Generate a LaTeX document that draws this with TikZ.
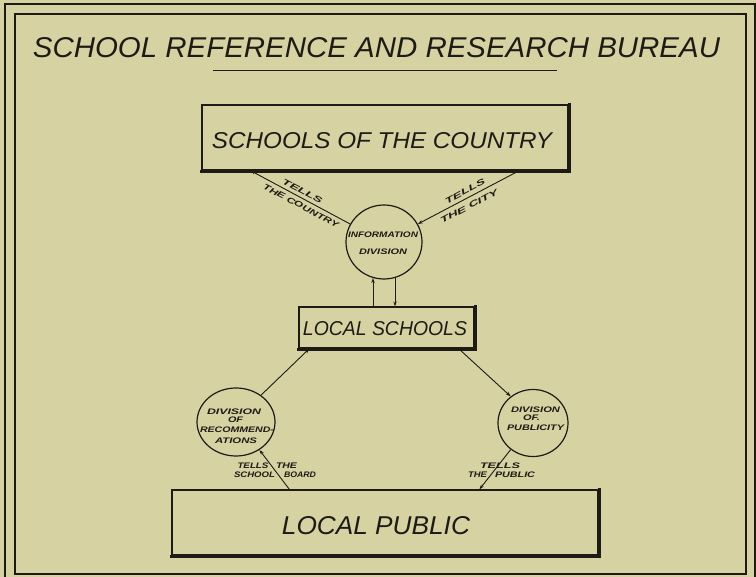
\documentclass[tikz,border=0pt]{standalone}
\usepackage{fontspec}
\setmainfont{Liberation Sans}
\usepackage{graphicx}
\usetikzlibrary{shapes.geometric,calc,arrows.meta}

\definecolor{paper}{RGB}{215,210,161}
\definecolor{ink}{RGB}{28,27,22}

% hand lettering: italic capitals stretched to a given width and cap height
\newcommand{\lettering}[3]{\resizebox{#1}{#2}{\itshape #3}}
\newcommand{\smalllet}[2]{\resizebox{#1}{5.6pt}{\bfseries\itshape #2}}

\begin{document}
\begin{tikzpicture}[x=1pt,y=-1pt,
  every node/.style={inner sep=0pt, text=ink},
  box/.style={draw=ink, line width=1.2pt, rectangle, inner sep=0pt},
  division/.style={draw=ink, line width=1.2pt, ellipse, inner sep=0pt},
  link/.style={draw=ink, line width=0.9pt, -{Stealth[length=5pt,width=3.4pt]}},
  frameline/.style={draw=ink, line width=1.1pt},
  shadowedge/.style={draw=ink, line width=2.6pt, line cap=rect}
]
\fill[paper] (0,0) rectangle (756,577);
\useasboundingbox (0,0) rectangle (756,577);

% double frame
\draw[frameline] (5,4) rectangle (755,592);
\draw[frameline] (15,14) rectangle (746,574);

% title
\node (title) at (376.5,47.5) {\lettering{687pt}{20pt}{SCHOOL REFERENCE AND RESEARCH BUREAU}};
\draw[ink, line width=0.9pt] (213,70) -- (557,70);

% boxes
\node[box, minimum width=366pt, minimum height=65pt] (sotc) at (385,137.5) {};
\node[box, minimum width=175pt, minimum height=41pt] (ls) at (386.5,327.5) {};
\node[box, minimum width=426pt, minimum height=65pt] (lp) at (385,522.5) {};
\foreach \b in {sotc,ls,lp}{
  \draw[shadowedge] ([xshift=0.8pt]\b.north east) -- ([xshift=0.8pt,yshift=-0.8pt]\b.south east) -- ([yshift=-0.8pt]\b.south west);
}
\node (sotctext) at ($(sotc.center)+(-3,3.5)$) {\lettering{340pt}{16pt}{SCHOOLS OF THE COUNTRY}};
\node (lstext) at ($(ls.center)+(-1.5,1.5)$) {\lettering{164pt}{14pt}{LOCAL SCHOOLS}};
\node (lptext) at ($(lp.center)+(-9,3.5)$) {\lettering{188pt}{18pt}{LOCAL PUBLIC}};

% divisions
\node[division, minimum width=76pt, minimum height=74pt] (info) at (384,242) {};
\node[division, minimum width=78pt, minimum height=68pt] (rec) at (236,422) {};
\node[division, minimum width=70pt, minimum height=67pt] (pub) at (533,423) {};

\node (info1) at (383,235) {\smalllet{70pt}{INFORMATION}};
\node (info2) at (383,252) {\smalllet{48pt}{DIVISION}};

\node (rec1) at (234,412) {\smalllet{54pt}{DIVISION}};
\node (rec2) at (235.5,420) {\smalllet{15pt}{OF}};
\node (rec3) at (237,430) {\smalllet{74pt}{RECOMMEND-}};
\node (rec4) at (236,441) {\smalllet{42pt}{ATIONS}};

\node (pub1) at (535.5,410) {\smalllet{49pt}{DIVISION}};
\node (pub2) at (531.5,418) {\smalllet{17pt}{OF.}};
\node (pub3) at (535.5,428) {\smalllet{57pt}{PUBLICITY}};

% connectors
\draw[link] (info.152) -- ($(sotc.south west)+(49,0)$);
\draw[link] ($(sotc.south west)+(318,0)$) -- (info.28);
\draw[link] (info.253 |- ls.north) -- (info.253);
\draw[link] (info.287) -- (info.287 |- ls.north);
\draw[link] (rec.47) -- ($(ls.south west)+(11,0)$);
\draw[link] ($(ls.south east)+(-16,0)$) -- (pub.130);
\draw[link] ($(lp.north west)+(118,0)$) -- (rec.310);
\draw[link] (pub.230) -- ($(lp.north west)+(308,0)$);

% connector labels
\node[rotate=-27.7] (l1a) at (302.5,191.5) {\smalllet{44pt}{TELLS}};
\node[rotate=-27.7] (l1b) at (301,205.8) {\smalllet{84pt}{THE COUNTRY}};
\node[rotate=27.9] (l2a) at (465,191.5) {\smalllet{44pt}{TELLS}};
\node[rotate=27.9] (l2b) at (469,206.5) {\smalllet{64pt}{THE CITY}};

\node (l3a) at (253,466) {\smalllet{31pt}{TELLS}};
\node (l3b) at (286.5,466) {\smalllet{21pt}{THE}};
\node (l3c) at (254.5,475) {\smalllet{41pt}{SCHOOL}};
\node (l3d) at (300,475) {\smalllet{32pt}{BOARD}};

\node (l4a) at (500,466) {\smalllet{40pt}{TELLS}};
\node (l4b) at (477.5,475) {\smalllet{19pt}{THE}};
\node (l4c) at (515,475) {\smalllet{40pt}{PUBLIC}};
\end{tikzpicture}
\end{document}
